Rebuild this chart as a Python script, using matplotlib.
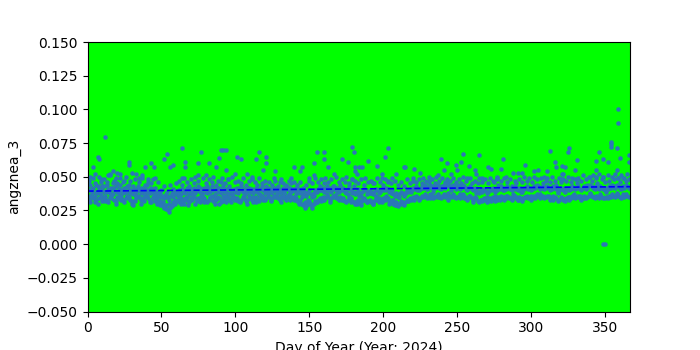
import numpy as np
import matplotlib
matplotlib.use("Agg")
import matplotlib.pyplot as plt

# lower part of the daily band (day 1..366)
lo = [0.033,0.031,0.035,0.034,0.036,0.033,0.030,0.034,0.035,0.032,
      0.034,0.036,0.033,0.031,0.035,0.034,0.037,0.033,0.032,0.035,
      0.034,0.036,0.035,0.033,0.031,0.034,0.036,0.035,0.033,0.030,
      0.029,0.032,0.034,0.036,0.035,0.033,0.034,0.032,0.035,0.036,
      0.034,0.033,0.031,0.035,0.034,0.032,0.030,0.031,0.029,0.030,
      0.028,0.027,0.029,0.026,0.024,0.027,0.029,0.031,0.030,0.032,
      0.033,0.031,0.034,0.032,0.030,0.033,0.035,0.032,0.031,0.034,
      0.033,0.035,0.030,0.032,0.034,0.031,0.033,0.035,0.034,0.032,
      0.031,0.033,0.034,0.036,0.032,0.030,0.033,0.035,0.034,0.031,
      0.033,0.032,0.034,0.036,0.035,0.033,0.031,0.034,0.035,0.033,
      0.034,0.032,0.031,0.033,0.035,0.034,0.032,0.033,0.036,0.034,
      0.033,0.031,0.034,0.035,0.033,0.032,0.034,0.036,0.035,0.033,
      0.034,0.036,0.035,0.033,0.034,0.036,0.035,0.037,0.034,0.033,
      0.035,0.036,0.034,0.033,0.035,0.037,0.036,0.034,0.035,0.033,
      0.034,0.032,0.031,0.033,0.030,0.029,0.031,0.028,0.030,0.032,
      0.029,0.027,0.030,0.032,0.031,0.033,0.034,0.032,0.035,0.033,
      0.034,0.036,0.035,0.033,0.034,0.036,0.035,0.037,0.034,0.033,
      0.035,0.033,0.034,0.032,0.031,0.033,0.035,0.034,0.032,0.031,
      0.030,0.032,0.033,0.031,0.029,0.032,0.034,0.033,0.031,0.032,
      0.033,0.031,0.030,0.032,0.034,0.033,0.031,0.032,0.033,0.034,
      0.033,0.035,0.034,0.032,0.031,0.033,0.030,0.029,0.031,0.028,
      0.030,0.032,0.031,0.029,0.031,0.033,0.032,0.034,0.033,0.035,
      0.034,0.036,0.035,0.033,0.034,0.036,0.035,0.037,0.036,0.034,
      0.035,0.037,0.036,0.034,0.035,0.036,0.037,0.035,0.034,0.036,
      0.037,0.035,0.036,0.038,0.036,0.035,0.037,0.036,0.034,0.035,
      0.036,0.034,0.035,0.037,0.036,0.034,0.033,0.035,0.036,0.034,
      0.033,0.035,0.034,0.032,0.031,0.033,0.032,0.034,0.033,0.031,
      0.032,0.034,0.033,0.035,0.034,0.032,0.033,0.035,0.034,0.036,
      0.035,0.033,0.034,0.036,0.035,0.034,0.033,0.035,0.036,0.034,
      0.033,0.035,0.034,0.032,0.034,0.035,0.036,0.034,0.035,0.033,
      0.034,0.036,0.035,0.037,0.036,0.034,0.035,0.036,0.034,0.035,
      0.036,0.035,0.033,0.034,0.036,0.035,0.034,0.032,0.033,0.035,
      0.034,0.033,0.032,0.034,0.035,0.033,0.034,0.036,0.035,0.034,
      0.035,0.036,0.034,0.033,0.035,0.036,0.034,0.035,0.036,0.037,
      0.036,0.035,0.034,0.036,0.035,0.034,0.036,0.035,0.034,0.034,
      0.035,0.034,0.036,0.035,0.037,0.036,0.035,0.037,0.036,0.035,
      0.034,0.036,0.035,0.037,0.036,0.035]

# upper part of the daily band
hi = [0.040,0.044,0.038,0.042,0.045,0.039,0.043,0.041,0.046,0.040,
      0.043,0.039,0.044,0.041,0.038,0.042,0.045,0.040,0.043,0.039,
      0.041,0.044,0.040,0.038,0.042,0.039,0.043,0.041,0.038,0.040,
      0.037,0.041,0.039,0.043,0.040,0.038,0.042,0.039,0.041,0.044,
      0.040,0.038,0.042,0.039,0.041,0.037,0.039,0.036,0.038,0.035,
      0.036,0.034,0.037,0.035,0.033,0.036,0.038,0.035,0.037,0.039,
      0.038,0.040,0.037,0.041,0.039,0.038,0.042,0.040,0.037,0.041,
      0.039,0.042,0.038,0.040,0.043,0.039,0.041,0.038,0.042,0.040,
      0.038,0.041,0.039,0.043,0.040,0.037,0.041,0.039,0.042,0.038,
      0.040,0.043,0.039,0.041,0.038,0.042,0.040,0.037,0.041,0.039,
      0.042,0.038,0.040,0.043,0.039,0.041,0.038,0.040,0.042,0.039,
      0.041,0.038,0.040,0.042,0.039,0.037,0.041,0.043,0.040,0.038,
      0.040,0.042,0.039,0.041,0.038,0.040,0.042,0.039,0.041,0.038,
      0.040,0.042,0.039,0.041,0.043,0.040,0.042,0.039,0.041,0.040,
      0.042,0.039,0.041,0.038,0.040,0.037,0.039,0.036,0.038,0.040,
      0.037,0.035,0.038,0.040,0.039,0.041,0.043,0.040,0.042,0.039,
      0.041,0.043,0.040,0.042,0.039,0.041,0.043,0.040,0.042,0.039,
      0.041,0.040,0.042,0.039,0.038,0.041,0.043,0.040,0.038,0.039,
      0.037,0.039,0.041,0.038,0.036,0.039,0.041,0.040,0.037,0.039,
      0.040,0.038,0.037,0.039,0.041,0.040,0.038,0.039,0.040,0.042,
      0.040,0.042,0.041,0.039,0.038,0.040,0.037,0.036,0.038,0.035,
      0.037,0.039,0.038,0.036,0.038,0.040,0.039,0.041,0.040,0.042,
      0.041,0.043,0.042,0.040,0.041,0.043,0.042,0.044,0.043,0.041,
      0.042,0.044,0.043,0.041,0.042,0.043,0.044,0.042,0.041,0.043,
      0.044,0.042,0.043,0.045,0.043,0.042,0.044,0.043,0.041,0.042,
      0.043,0.041,0.042,0.044,0.043,0.041,0.040,0.042,0.043,0.041,
      0.040,0.042,0.041,0.039,0.038,0.040,0.039,0.041,0.040,0.038,
      0.039,0.041,0.040,0.042,0.041,0.039,0.040,0.042,0.041,0.043,
      0.042,0.040,0.041,0.043,0.042,0.041,0.040,0.042,0.043,0.041,
      0.040,0.042,0.041,0.039,0.041,0.042,0.043,0.041,0.042,0.040,
      0.041,0.043,0.042,0.044,0.043,0.041,0.042,0.043,0.041,0.042,
      0.043,0.042,0.040,0.041,0.043,0.042,0.041,0.039,0.040,0.042,
      0.041,0.040,0.039,0.041,0.042,0.040,0.041,0.043,0.042,0.041,
      0.042,0.043,0.041,0.040,0.042,0.043,0.041,0.042,0.043,0.044,
      0.043,0.042,0.041,0.043,0.042,0.041,0.043,0.042,0.041,0.040,
      0.042,0.041,0.043,0.042,0.044,0.043,0.042,0.044,0.043,0.042,
      0.041,0.043,0.042,0.044,0.043,0.042]

# third reading per day, more spread out
mid = [0.047,0.036,0.041,0.049,0.031,0.044,0.038,0.050,0.037,0.043,
       0.048,0.032,0.046,0.039,0.051,0.036,0.042,0.047,0.030,0.045,
       0.038,0.049,0.033,0.046,0.040,0.050,0.035,0.044,0.047,0.032,
       0.043,0.048,0.036,0.041,0.046,0.030,0.049,0.037,0.044,0.039,
       0.046,0.031,0.045,0.048,0.036,0.042,0.034,0.046,0.032,0.040,
       0.031,0.043,0.026,0.039,0.030,0.044,0.028,0.041,0.033,0.045,
       0.036,0.047,0.030,0.044,0.049,0.034,0.046,0.029,0.043,0.048,
       0.037,0.045,0.050,0.033,0.047,0.042,0.036,0.049,0.031,0.045,
       0.043,0.048,0.035,0.046,0.050,0.034,0.044,0.047,0.030,0.046,
       0.049,0.036,0.045,0.031,0.048,0.043,0.037,0.050,0.034,0.046,
       0.039,0.047,0.032,0.045,0.049,0.036,0.044,0.030,0.047,0.041,
       0.048,0.035,0.046,0.031,0.044,0.049,0.037,0.045,0.033,0.047,
       0.043,0.038,0.046,0.032,0.044,0.040,0.047,0.035,0.043,0.046,
       0.031,0.045,0.038,0.044,0.036,0.047,0.033,0.045,0.040,0.046,
       0.037,0.044,0.030,0.046,0.035,0.042,0.027,0.044,0.033,0.047,
       0.030,0.045,0.036,0.049,0.031,0.046,0.040,0.048,0.033,0.045,
       0.049,0.037,0.046,0.031,0.048,0.043,0.036,0.050,0.034,0.046,
       0.044,0.048,0.033,0.046,0.050,0.037,0.045,0.031,0.048,0.043,
       0.047,0.030,0.045,0.036,0.048,0.033,0.044,0.049,0.031,0.046,
       0.038,0.047,0.030,0.045,0.036,0.049,0.034,0.046,0.031,0.044,
       0.048,0.036,0.046,0.030,0.045,0.049,0.033,0.047,0.029,0.044,
       0.035,0.046,0.030,0.043,0.037,0.048,0.032,0.045,0.039,0.047,
       0.033,0.046,0.040,0.048,0.034,0.045,0.049,0.036,0.047,0.041,
       0.046,0.034,0.048,0.039,0.045,0.050,0.035,0.047,0.042,0.049,
       0.036,0.046,0.048,0.033,0.047,0.040,0.049,0.035,0.046,0.044,
       0.048,0.037,0.045,0.050,0.034,0.047,0.042,0.036,0.049,0.045,
       0.031,0.047,0.038,0.045,0.049,0.033,0.046,0.040,0.048,0.035,
       0.045,0.049,0.032,0.047,0.041,0.036,0.048,0.044,0.033,0.047,
       0.040,0.049,0.036,0.046,0.034,0.048,0.043,0.037,0.047,0.045,
       0.033,0.048,0.039,0.046,0.050,0.035,0.047,0.042,0.049,0.036,
       0.046,0.050,0.034,0.048,0.043,0.037,0.049,0.045,0.035,0.047,
       0.049,0.036,0.046,0.050,0.033,0.047,0.044,0.038,0.049,0.046,
       0.034,0.048,0.042,0.047,0.050,0.035,0.046,0.049,0.037,0.048,
       0.045,0.049,0.036,0.047,0.051,0.034,0.048,0.044,0.050,0.038,
       0.047,0.051,0.035,0.049,0.045,0.052,0.037,0.048,0.050,0.046,
       0.039,0.051,0.047,0.036,0.050,0.048,0.052,0.038,0.049,0.046,
       0.051,0.037,0.049,0.047,0.052,0.048]

# scattered higher (and a few odd) readings: day, value
extra_day = [2, 4, 5, 7, 8, 9, 12, 14, 15, 17, 19, 20, 22, 25, 28, 28, 30, 33, 35, 37,
             39, 41, 43, 45, 46, 52, 54, 56, 58, 64, 64, 66, 66, 75, 75, 77, 80, 82, 87, 89,
             90, 92, 94, 94, 95, 100, 101, 104, 108, 111, 114, 116, 119, 121, 121, 126, 127, 131, 138, 140,
             144, 145, 150, 153, 153, 155, 160, 160, 163, 167, 172, 176, 179, 179, 180, 181, 181, 182, 184, 186,
             190, 193, 196, 199, 199, 201, 203, 203, 209, 214, 215, 220, 221, 225, 231, 232, 237, 239, 241, 243,
             246, 249, 250, 253, 254, 257, 258, 262, 263, 265, 267, 271, 273, 275, 277, 277, 280, 281, 283, 288,
             291, 294, 296, 302, 305, 309, 311, 313, 316, 317, 320, 321, 321, 322, 323, 325, 326, 330, 331, 331,
             340, 344, 344, 344, 346, 349, 349, 349, 350, 352, 354, 354, 354, 358, 358, 359, 359, 359, 360, 362,
             366, 366]
extra_val = [0.050, 0.057, 0.052, 0.065, 0.063, 0.048, 0.0795, 0.051, 0.052, 0.054, 0.049, 0.053, 0.052, 0.047, 0.059, 0.061, 0.053, 0.052, 0.049, 0.051,
             0.0575, 0.048, 0.060, 0.057, 0.049, 0.063, 0.067, 0.057, 0.059, 0.0715, 0.049, 0.061, 0.057, 0.060, 0.0515, 0.068, 0.0515, 0.060, 0.057, 0.064,
             0.070, 0.070, 0.070, 0.055, 0.048, 0.052, 0.065, 0.063, 0.052, 0.050, 0.063, 0.0685, 0.055, 0.065, 0.060, 0.049, 0.054, 0.048, 0.049, 0.057,
             0.054, 0.0575, 0.049, 0.060, 0.051, 0.068, 0.068, 0.063, 0.057, 0.052, 0.063, 0.061, 0.072, 0.048, 0.068, 0.057, 0.054, 0.052, 0.057, 0.057,
             0.062, 0.045, 0.058, 0.052, 0.049, 0.065, 0.071, 0.047, 0.052, 0.057, 0.057, 0.049, 0.056, 0.053, 0.050, 0.048, 0.051, 0.063, 0.055, 0.060,
             0.052, 0.059, 0.055, 0.061, 0.067, 0.049, 0.058, 0.055, 0.052, 0.066, 0.049, 0.057, 0.056, 0.046, 0.050, 0.049, 0.056, 0.063, 0.050, 0.053,
             0.053, 0.053, 0.059, 0.054, 0.055, 0.050, 0.054, 0.069, 0.061, 0.057, 0.048, 0.058, 0.052, 0.052, 0.057, 0.068, 0.0715, 0.055, 0.0625, 0.048,
             0.050, 0.062, 0.055, 0.050, 0.0685, 0.063, 0.050, 0.0, 0.0, 0.061, 0.076, 0.074, 0.072, 0.0715, 0.055, 0.100, 0.090, 0.049, 0.064, 0.049,
             0.066, 0.061]

days = np.arange(1, 367)
x = np.concatenate([days, days, days, extra_day])
y = np.concatenate([lo, hi, mid, extra_val])

fig, ax = plt.subplots(figsize=(7, 3.5), dpi=100)
ax.set_facecolor("#00ff00")
ax.scatter(x, y, s=5, color="#2a77b7")
coef = np.polyfit(x, y, 1)
xx = np.array([0, 367])
ax.plot(xx, np.polyval(coef, xx), "--", color="blue", linewidth=1.2)
ax.set_xlim(0, 367)
ax.set_ylim(-0.05, 0.15)
ax.set_xlabel("Day of Year (Year: 2024)")
ax.set_ylabel("angznea_3")
fig.savefig("out.png")
